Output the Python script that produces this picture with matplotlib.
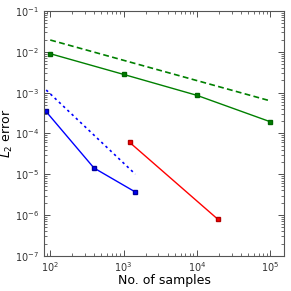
import matplotlib
matplotlib.use("Agg")
import matplotlib.pyplot as plt

# Data
green_n = [100, 1000, 10000, 100000]
green_err = [9.0e-3, 2.8e-3, 8.6e-4, 1.94e-4]
green_ref_n = [100, 100000]
green_ref_err = [1.95e-2, 6.3e-4]

blue_n = [87, 395, 1450]
blue_err = [3.5e-4, 1.42e-5, 3.66e-6]
blue_ref_n = [88, 1450]
blue_ref_err = [1.16e-3, 1.0e-5]

red_n = [1216, 19400]
red_err = [6.0e-5, 7.85e-7]

xlim = (82, 1.55e5)
ylim = (1e-7, 1e-1)

fig = plt.figure(figsize=(2.91, 2.91), dpi=100)
ax = fig.add_axes([0.151, 0.121, 0.825, 0.841])

ax.loglog(green_n, green_err, color=(0, 0.5, 0), marker='s', ms=3, lw=1, mec=(0, 0.4, 0))
ax.loglog(green_ref_n, green_ref_err, color=(0, 0.5, 0), lw=1.2, ls=(0, (3.5, 2)))
ax.loglog(blue_n, blue_err, color='b', marker='s', ms=3, lw=1, mec=(0, 0, 0.6))
ax.loglog(blue_ref_n, blue_ref_err, color='b', lw=1.2, ls=(0, (1.5, 2)))
ax.loglog(red_n, red_err, color='r', marker='s', ms=3, lw=1, mec=(0.7, 0, 0))

ax.set_xlim(*xlim)
ax.set_ylim(*ylim)
ax.tick_params(which='both', direction='in', top=True, right=True, labelsize=7, colors='#333333')
ax.tick_params(which='major', length=4, width=0.6)
ax.tick_params(which='minor', length=2, width=0.5)
for s in ax.spines.values():
    s.set_color('#555555')
    s.set_linewidth(0.8)
ax.tick_params(axis='x', pad=3)
ax.set_xlabel('No. of samples', fontsize=9, labelpad=0)
ax.set_ylabel('$L_2$ error', fontsize=9, labelpad=0)

fig.savefig('out.png', dpi=100)
